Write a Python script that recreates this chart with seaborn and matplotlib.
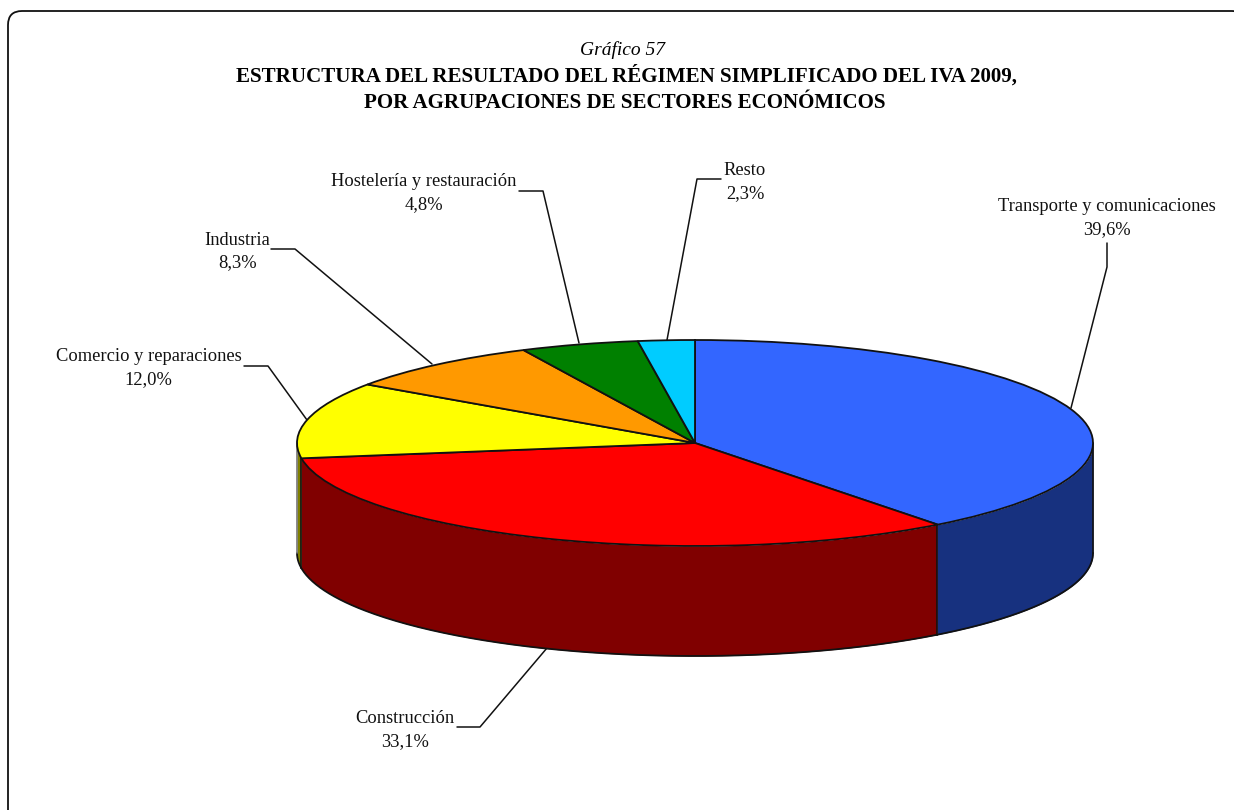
import numpy as np
import matplotlib
matplotlib.use("Agg")
import matplotlib.pyplot as plt
from matplotlib.patches import FancyBboxPatch
import seaborn as sns

# datos del grafico
sectores = ["Transporte y comunicaciones", "Construcción", "Comercio y reparaciones",
            "Industria", "Hostelería y restauración", "Resto"]
porcentajes = [39.6, 33.1, 12.0, 8.3, 4.8, 2.3]
colores = ["#3366FF", "#FF0000", "#FFFF00", "#FF9900", "#008000", "#00CCFF"]
colores_lado = ["#17317F", "#800000", "#808000", "#7F4C00", "#004000", "#00667F"]

# posicion de las etiquetas y lineas guia, en pixeles
pos_etiquetas = [(1107, 218), (405, 730), (148.5, 368), (237.5, 251.5), (424, 193), (745, 182)]
guias = [
    [(1107, 243), (1107, 267), (1071, 408)],
    [(457, 727), (480, 727), (547, 648)],
    [(244, 366), (268, 366), (307, 420)],
    [(271, 249), (295, 249), (432, 364)],
    [(519, 191), (543, 191), (579, 343)],
    [(721, 179), (697, 179), (667, 340)],
]

sns.set_theme(style="white")
plt.rcParams["font.family"] = ["Liberation Serif"]

W, H = 1234, 810
fig = plt.figure(figsize=(W / 100, H / 100), dpi=100, facecolor="white")

# capa en pixeles para marco, textos y guias
capa = fig.add_axes([0, 0, 1, 1])
capa.set_xlim(0, W)
capa.set_ylim(H, 0)
capa.axis("off")
capa.add_patch(FancyBboxPatch((22, 25), 1210, 820, boxstyle="round,pad=14,rounding_size=14",
                              fc="white", ec="#111111", lw=1.3, clip_on=True))

capa.text(622, 50.5, "Gráfico 57", ha="center", va="center", fontsize=14, style="italic", color="black")
capa.text(626, 76, "ESTRUCTURA DEL RESULTADO DEL RÉGIMEN SIMPLIFICADO DEL IVA 2009,",
          ha="center", va="center", fontsize=15.1, fontweight="bold", color="black")
capa.text(625, 103.5, "POR AGRUPACIONES DE SECTORES ECONÓMICOS",
          ha="center", va="center", fontsize=15.1, fontweight="bold", color="black")

for nombre, valor, (x, y) in zip(sectores, porcentajes, pos_etiquetas):
    capa.text(x, y, f"{nombre}\n{valor:.1f}%".replace(".", ","), ha="center", va="center",
              fontsize=13.3, linespacing=1.43, color="#111111")
for g in guias:
    xs, ys = zip(*g)
    capa.plot(xs, ys, color="#111111", lw=1.1)

# la tarta: circulo unidad estirado a elipse por la forma de los ejes
cx, cy, rx, ry, fondo = 695, 443, 398, 103, 110
ax = fig.add_axes([(cx - 1.25 * rx) / W, 1 - (cy + 1.25 * ry) / H, 2.5 * rx / W, 2.5 * ry / H])
ax.patch.set_alpha(0)

# pared lateral, solo la mitad delantera
limites = np.cumsum([0] + porcentajes) / 100 * 360
for i, color in enumerate(colores_lado):
    a0, a1 = max(limites[i], 90), min(limites[i + 1], 270)
    if a1 <= a0:
        continue
    t = np.radians(np.linspace(a0, a1, 200))
    x = np.sin(t)
    y = np.cos(t)
    ax.fill_between(x, y, y - fondo / ry, color=color, lw=0, clip_on=False, zorder=1)
    ax.plot(x, y - fondo / ry, color="#111111", lw=1.3, clip_on=False, zorder=2)
    ax.plot([x[0], x[0]], [y[0], y[0] - fondo / ry], color="#111111", lw=1.2, clip_on=False, zorder=2)
t = np.radians(270)
ax.plot([np.sin(t), np.sin(t)], [np.cos(t), np.cos(t) - fondo / ry], color="#777777", lw=1.2, clip_on=False, zorder=2)

wedges, _ = ax.pie(porcentajes, colors=colores, startangle=90, counterclock=False,
                   wedgeprops={"edgecolor": "#111111", "linewidth": 1.3})
for w in wedges:
    w.set_zorder(3)
    w.set_clip_on(False)
ax.set_xlim(-1.25, 1.25)
ax.set_ylim(-1.25, 1.25)
ax.set_aspect("auto")

fig.savefig("out.png", dpi=100)
